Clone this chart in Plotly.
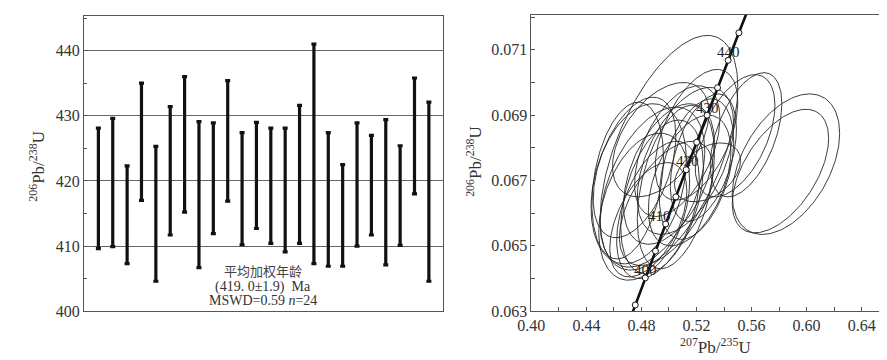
import numpy as np
import plotly.graph_objects as go

# ---------------- Left panel data: 206Pb/238U ages (Ma), error-bar low/high ----------------
spot = list(range(1, 25))
age_low = [409.6, 409.9, 407.3, 417.0, 404.6, 411.7, 415.2, 406.7, 411.9, 416.9, 410.2, 412.7,
           410.4, 409.1, 410.4, 407.3, 406.9, 406.9, 410.0, 411.7, 407.1, 410.1, 418.0, 404.6]
age_high = [428.1, 429.6, 422.3, 435.0, 425.3, 431.4, 436.0, 429.1, 428.9, 435.4, 427.4, 429.0,
            428.1, 428.1, 431.6, 441.0, 427.4, 422.5, 428.9, 427.0, 429.4, 425.4, 435.8, 432.1]
left_yticks = [400, 410, 420, 430, 440]

# ---------------- Right panel data: concordia ----------------
conc_age = [390, 395, 400, 405, 410, 415, 420, 425, 430, 435, 440, 445, 450]
conc_x = [0.4683, 0.4755, 0.4828, 0.4902, 0.4976, 0.5050, 0.5125, 0.5201, 0.5277, 0.5353, 0.5430, 0.5508, 0.5586]
conc_y = [0.06237, 0.06319, 0.06402, 0.06484, 0.06567, 0.06650, 0.06733, 0.06817, 0.06900, 0.06984, 0.07068, 0.07152, 0.07236]
conc_tick_age = [395, 400, 405, 410, 415, 420, 425, 430, 435, 440, 445]
conc_label_age = ["400", "410", "420", "430", "440"]
conc_label_x = [0.4832, 0.4929, 0.5132, 0.5280, 0.5432]
conc_label_y = [0.06425, 0.06590, 0.06761, 0.06922, 0.07092]

# ---------------- Right panel data: error ellipses (centre, half-extent x/y, correlation) --------
ell_cx = [0.500, 0.585, 0.581, 0.548, 0.556, 0.494, 0.520, 0.478, 0.482, 0.488, 0.495, 0.500,
          0.505, 0.512, 0.515, 0.520, 0.525, 0.528, 0.492, 0.485, 0.470, 0.498, 0.506, 0.475]
ell_cy = [0.06785, 0.06750, 0.06729, 0.06837, 0.06840, 0.06825, 0.06840, 0.06690, 0.06620, 0.06680,
          0.06650, 0.06720, 0.06680, 0.06760, 0.06700, 0.06735, 0.06770, 0.06725, 0.06610, 0.06580,
          0.06700, 0.06630, 0.06790, 0.06740]
ell_sx = [0.050, 0.039, 0.035, 0.029, 0.026, 0.035, 0.030, 0.0346, 0.033, 0.038, 0.030, 0.033,
          0.028, 0.035, 0.030, 0.027, 0.024, 0.024, 0.030, 0.028, 0.026, 0.034, 0.031, 0.030]
ell_sy = [0.00359, 0.00215, 0.00189, 0.00187, 0.00190, 0.00175, 0.00200, 0.00245, 0.00225, 0.00245,
          0.00235, 0.00215, 0.00250, 0.00225, 0.00200, 0.00215, 0.00195, 0.00090, 0.00210, 0.00175,
          0.00240, 0.00190, 0.00200, 0.00215]
ell_rho = [0.56, 0.44, 0.53, 0.50, 0.50, 0.47, 0.50, 0.30, 0.35, 0.45, 0.40, 0.45,
           0.40, 0.50, 0.45, 0.40, 0.45, 0.40, 0.45, 0.50, 0.30, 0.55, 0.50, 0.45]

SERIF = "Liberation Serif, Times New Roman, serif"
TXT = "#333333"
AX = "#555555"

fig = go.Figure()

# ---- left: error bars ----
mid = [(a + b) / 2 for a, b in zip(age_low, age_high)]
half = [(b - a) / 2 for a, b in zip(age_low, age_high)]
fig.add_trace(go.Scatter(
    x=spot, y=mid, mode="markers", marker=dict(size=1, opacity=0),
    error_y=dict(type="data", array=half, symmetric=True, color="#111111", thickness=3.2, width=2.5),
    xaxis="x", yaxis="y", showlegend=False, hoverinfo="skip"))

# ---- right: ellipses ----
th = np.linspace(0, 2 * np.pi, 181)
ex, ey = [], []
for cx, cy, sx, sy, r in zip(ell_cx, ell_cy, ell_sx, ell_sy, ell_rho):
    ex += list(cx + sx * np.cos(th)) + [None]
    ey += list(cy + sy * (r * np.cos(th) + np.sqrt(1 - r * r) * np.sin(th))) + [None]
fig.add_trace(go.Scatter(x=ex, y=ey, mode="lines", line=dict(color="#262626", width=0.9),
                         xaxis="x2", yaxis="y2", showlegend=False, hoverinfo="skip"))

# ---- right: concordia ----
fig.add_trace(go.Scatter(x=conc_x, y=conc_y, mode="lines", line=dict(color="#111111", width=2.6),
                         xaxis="x2", yaxis="y2", showlegend=False, hoverinfo="skip", cliponaxis=True))
idx = [conc_age.index(a) for a in conc_tick_age]
fig.add_trace(go.Scatter(x=[conc_x[i] for i in idx], y=[conc_y[i] for i in idx], mode="markers",
                         marker=dict(size=6, color="white", line=dict(color="#111111", width=1)),
                         xaxis="x2", yaxis="y2", showlegend=False, hoverinfo="skip", cliponaxis=True))

ann = []
for t, x, y in zip(conc_label_age, conc_label_x, conc_label_y):
    ann.append(dict(x=x, y=y, xref="x2", yref="y2", text=t, showarrow=False,
                    xanchor="center", yanchor="middle",
                    font=dict(family=SERIF, size=15, color="#222222")))

# left annotation text
ann.append(dict(x=12.45, y=406.2, xref="x", yref="y", text="平均加权年龄", showarrow=False,
                xanchor="center", yanchor="middle",
                font=dict(family="Noto Sans CJK SC", size=13, color="#444444")))
ann.append(dict(x=12.45, y=403.75, xref="x", yref="y", text="(419. 0±1.9)  Ma", showarrow=False,
                xanchor="center", yanchor="middle",
                font=dict(family=SERIF, size=14, color=TXT)))
ann.append(dict(x=12.45, y=401.6, xref="x", yref="y", text="MSWD=0.59 <i>n</i>=24", showarrow=False,
                xanchor="center", yanchor="middle",
                font=dict(family=SERIF, size=14, color=TXT)))

# axis titles
ann.append(dict(x=15, y=162, xref="paper", yref="paper", text="<sup>206</sup>Pb/<sup>238</sup>U",
                textangle=-90, showarrow=False, xanchor="center", yanchor="middle",
                font=dict(family=SERIF, size=17, color=TXT)))
ann.append(dict(x=459, y=157, xref="paper", yref="paper", text="<sup>206</sup>Pb/<sup>238</sup>U",
                textangle=-90, showarrow=False, xanchor="center", yanchor="middle",
                font=dict(family=SERIF, size=17, color=TXT)))
ann.append(dict(x=705, y=347, xref="paper", yref="paper", text="<sup>207</sup>Pb/<sup>235</sup>U",
                showarrow=False, xanchor="center", yanchor="middle",
                font=dict(family=SERIF, size=17, color=TXT)))

W, H = 887, 360
for a in ann:
    if a["xref"] == "paper":
        a["x"] = a["x"] / W
        a["y"] = 1 - a["y"] / H

fig.update_layout(
    width=W, height=H, margin=dict(l=0, r=0, t=0, b=0),
    paper_bgcolor="white", plot_bgcolor="white",
    annotations=ann,
    xaxis=dict(domain=[63 / W, 428 / W], range=[0, 25], showticklabels=False, ticks="",
               showgrid=False, zeroline=False, showline=True, linecolor=AX, linewidth=1, mirror=True),
    yaxis=dict(domain=[1 - 311 / H, 1 - 8.3 / H], range=[400, 445.3], tickvals=left_yticks,
               showgrid=True, gridcolor="#666666", gridwidth=1, zeroline=False,
               showline=True, linecolor=AX, linewidth=1, mirror=True,
               ticks="inside", ticklen=4, tickcolor=AX,
               minor=dict(dtick=5, ticks="inside", ticklen=3, tickcolor=AX, showgrid=False),
               tickfont=dict(family=SERIF, size=16, color=TXT)),
    xaxis2=dict(domain=[517.5 / W, 878.3 / W], range=[0.40, 0.658], anchor="y2",
                tickvals=[0.40, 0.44, 0.48, 0.52, 0.56, 0.60, 0.64], tickformat=".2f",
                showgrid=False, zeroline=False, showline=True, linecolor=AX, linewidth=1, mirror=True,
                ticks="inside", ticklen=4, tickcolor=AX,
                minor=dict(dtick=0.02, tick0=0.40, ticks="inside", ticklen=4, tickcolor=AX),
                tickfont=dict(family=SERIF, size=16, color=TXT)),
    yaxis2=dict(domain=[1 - 311 / H, 1 - 6.7 / H], range=[0.063, 0.07208], anchor="x2",
                tickvals=[0.063, 0.065, 0.067, 0.069, 0.071], tickformat=".3f",
                showgrid=False, zeroline=False, showline=True, linecolor=AX, linewidth=1, mirror=True,
                ticks="inside", ticklen=4, tickcolor=AX,
                minor=dict(dtick=0.001, tick0=0.063, ticks="inside", ticklen=4, tickcolor=AX),
                tickfont=dict(family=SERIF, size=16, color=TXT)),
)

fig.write_html("out.html")
